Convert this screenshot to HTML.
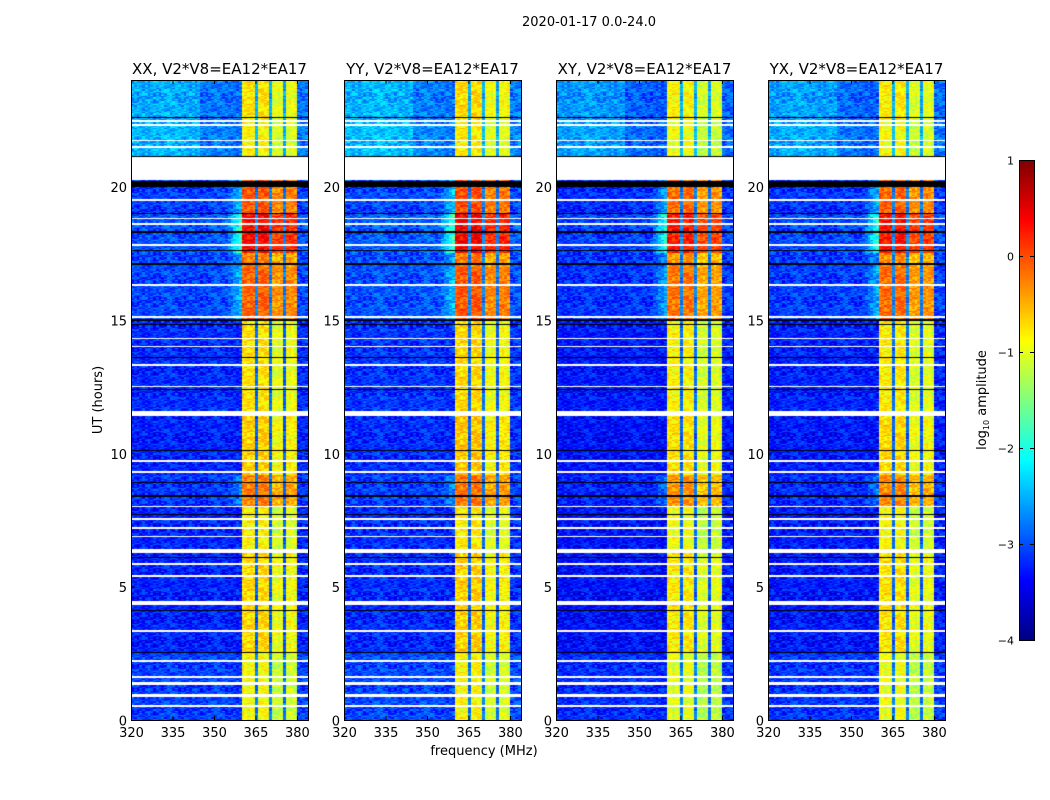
<!DOCTYPE html>
<html><head><meta charset="utf-8">
<style>
body{margin:0;background:#fff;width:1050px;height:800px;overflow:hidden;position:relative;font-family:"DejaVu Sans","Liberation Sans",sans-serif}
canvas{position:absolute}
svg{position:absolute;left:0;top:0}
</style></head>
<body>
<canvas id="p0" width="177" height="640" style="left:131px;top:80px"></canvas>
<canvas id="p1" width="177" height="640" style="left:344px;top:80px"></canvas>
<canvas id="p2" width="177" height="640" style="left:556px;top:80px"></canvas>
<canvas id="p3" width="177" height="640" style="left:768px;top:80px"></canvas>
<canvas id="cb" width="15" height="480" style="left:1019px;top:160px"></canvas>
<svg id="ov" width="1050" height="800"></svg>
<script>
// ---- data ----
const panelTitles = ["XX, V2*V8=EA12*EA17","YY, V2*V8=EA12*EA17","XY, V2*V8=EA12*EA17","YX, V2*V8=EA12*EA17"];
const panelOffsets = [0, 0.05, -0.1, -0.05];
const xTicks = [320,335,350,365,380];
const yTicks = [0,5,10,15,20];
const cbTicks = [-4,-3,-2,-1,0,1];
// time segments
const segStart = [0, 2.5, 6.3, 8.0, 9.2, 11.5, 13.0, 15.0, 17.0, 17.5, 19.0, 21.1, 22.5];
const segEnd   = [2.5, 6.3, 8.0, 9.2, 11.5, 13.0, 15.0, 17.0, 17.5, 19.0, 20.25, 22.5, 24];
const segBg    = [-3.1, -3.25, -3.25, -3.15, -3.25, -3.2, -3.2, -3.05, -3.05, -3.0, -3.1, -2.8, -2.85];
const segBand  = [-1.0, -0.8, -0.95, -0.35, -0.75, -0.85, -0.85, -0.2, -0.35, 0.25, -0.15, -0.95, -0.85];
// sub-bands (MHz)
const bandLo = [360.4, 365.8, 370.9, 376.0];
const bandHi = [364.7, 369.8, 374.9, 380.0];
const bandGain = [0.1, 0.05, -0.15, -0.1];
// flagged intervals (hours)
const whiteLo = [0.5,0.88,1.3,1.58,2.18,3.3,4.3,5.38,5.83,6.28,6.85,7.18,7.5,7.98,9.28,9.68,11.4,12.48,13.28,13.98,14.28,15.08,16.28,17.78,18.58,18.78,19.48,20.25,21.45,21.7,22.28,22.43];
const whiteHi = [0.58,0.96,1.42,1.66,2.24,3.38,4.48,5.44,5.89,6.4,6.9,7.24,7.56,8.04,9.34,9.74,11.58,12.54,13.34,14.04,14.34,15.14,16.34,17.84,18.64,18.84,19.54,21.12,21.51,21.76,22.34,22.49];
const blackLo = [2.5,4.08,6.08,7.68,8.38,8.88,10.08,12.38,13.58,14.82,14.98,17.08,17.58,18.28,18.98,19.98,21.1,22.56];
const blackHi = [2.54,4.12,6.12,7.72,8.42,8.92,10.12,12.42,13.62,14.86,15.02,17.12,17.62,18.32,19.02,20.2,21.14,22.6];
const texture = [0.15,-0.2,0.3,-0.1,0.0,-0.25,0.2,0.1,-0.15,0.35,-0.05,0.05,-0.3,0.25,-0.35,0.1,-0.1];

// ---- scales ----
const W=177,H=640;
function xs(f){return (f-320)*W/64;}
function ys(t){return (24-t)*H/24;}
function jet(v){
  let x=(v+4)/5; x=Math.max(0,Math.min(1,x));
  function c(a){return Math.max(0,Math.min(1,a));}
  const r=c(Math.min(4*x-1.5,-4*x+4.5)),g=c(Math.min(4*x-0.5,-4*x+3.5)),b=c(Math.min(4*x+0.5,-4*x+2.5));
  return `rgb(${Math.round(r*255)},${Math.round(g*255)},${Math.round(b*255)})`;
}
function segIdx(t){for(let i=0;i<segStart.length;i++) if(t>=segStart[i]&&t<segEnd[i]) return i; return -1;}
function tex(r,c){return texture[(r*r*3+c*c*5+r*c+r+c*2)%texture.length];}
function drawLines(ctx,lo,hi,color){
  ctx.fillStyle=color;
  for(let i=0;i<lo.length;i++){
    const y0=Math.round(ys(hi[i])), y1=Math.round(ys(lo[i]));
    ctx.fillRect(0,y0,W,Math.max(1,y1-y0));
  }
}

for(let p=0;p<4;p++){
  const ctx=document.getElementById('p'+p).getContext('2d');
  ctx.fillStyle='#fff';ctx.fillRect(0,0,W,H);
  const dt=0.05, df=1;
  for(let r=0;r<480;r++){
    const t=r*dt+dt/2;
    const y0=Math.round(ys(t+dt/2)), y1=Math.round(ys(t-dt/2));
    if(y1<=y0) continue;
    const s=segIdx(t); if(s<0) continue;
    for(let c=0;c<64;c++){
      const f=320+c*df+df/2;
      let v=segBg[s]+panelOffsets[p];
      let inBand=-1;
      for(let b=0;b<4;b++) if(f>=bandLo[b]&&f<bandHi[b]) inBand=b;
      if(inBand>=0) v=segBand[s]+bandGain[inBand]+panelOffsets[p]+tex(r+p,c)*0.8;
      else if(f>=360.4&&f<380) v=segBg[s]+0.3+tex(r,c)*0.6;
      else {
        if(f>=354&&f<360.4) v+=Math.max(0,(segBand[s]+0.7))*(f-354)/6*1.3;
        v+=tex(r,c+p)*1.0;
        if(s>=11 && f<345) v+=0.3;
      }
      ctx.fillStyle=jet(v);
      const x0=Math.round(xs(f-df/2)), x1=Math.round(xs(f+df/2));
      ctx.fillRect(x0,y0,x1-x0,y1-y0);
    }
  }
  drawLines(ctx,whiteLo,whiteHi,'#fff');
  drawLines(ctx,blackLo,blackHi,'#000');
}
{const ctx=document.getElementById('cb').getContext('2d');
 for(let i=0;i<480;i++){ctx.fillStyle=jet(1-i*5/480);ctx.fillRect(0,i,15,1);}}

// ---- overlay ----
const NS='http://www.w3.org/2000/svg';
const svg=document.getElementById('ov');
function el(tag,attrs,text){const e=document.createElementNS(NS,tag);for(const k in attrs)e.setAttribute(k,attrs[k]);if(text!==undefined)e.textContent=text;svg.appendChild(e);return e;}
const lefts=[131,344,556,768];
let e=el('text',{x:589,y:26,'text-anchor':'middle','font-size':13},'2020-01-17 0.0-24.0');


for(let p=0;p<4;p++){
  const L=lefts[p];
  e=el('rect',{x:L+0.5,y:80.5,width:W,height:H,fill:'none',stroke:'#000','stroke-width':1});
  
  
  e=el('text',{x:L+W/2,y:74,'text-anchor':'middle','font-size':15},panelTitles[p]);
  
  
  xTicks.forEach(v=>{
    const x=L+xs(v)+0.5;
    el('line',{x1:x,x2:x,y1:720,y2:716,stroke:'#000'});
    el('line',{x1:x,x2:x,y1:80,y2:84,stroke:'#000'});
    e=el('text',{x:x,y:737,'text-anchor':'middle','font-size':13},v);
    
    
  });
  yTicks.forEach(v=>{
    const y=80+ys(v)+0.5;
    el('line',{x1:L,x2:L+4,y1:y,y2:y,stroke:'#000'});
    el('line',{x1:L+W,x2:L+W-4,y1:y,y2:y,stroke:'#000'});
    e=el('text',{x:L-4,y:y+5,'text-anchor':'end','font-size':13},v);
    
    
  });
}
e=el('text',{x:484,y:755,'text-anchor':'middle','font-size':13},'frequency (MHz)');


e=el('text',{x:0,y:0,'text-anchor':'middle','font-size':13,transform:'translate(102,400) rotate(-90)'},'UT (hours)');


e=el('rect',{x:1019.5,y:160.5,width:15,height:480,fill:'none',stroke:'#000'});


cbTicks.forEach(v=>{
  const y=160+(1-v)*96+0.5;
  el('line',{x1:1019,x2:1023,y1:y,y2:y,stroke:'#000'});
  el('line',{x1:1034,x2:1030,y1:y,y2:y,stroke:'#000'});
  e=el('text',{x:1014,y:y+4,'text-anchor':'end','font-size':11},(v<0?'\u2212'+(-v):v));
  
  
});
e=el('text',{x:0,y:0,'text-anchor':'middle','font-size':13,transform:'translate(986,400) rotate(-90)'});


e.innerHTML='log<tspan font-size="8" dy="3">10</tspan><tspan dy="-3"> amplitude</tspan>';
</script>
</body></html>
